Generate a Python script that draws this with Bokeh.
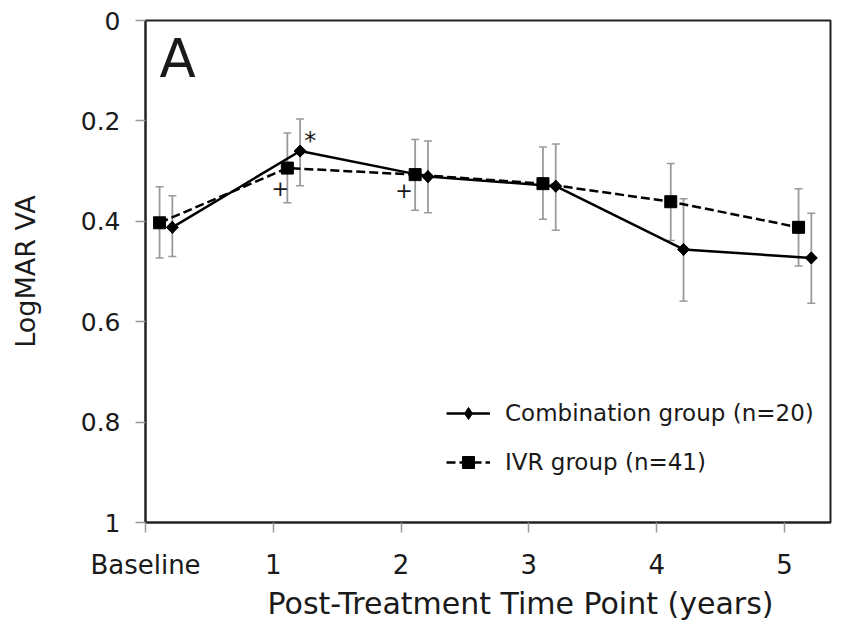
from bokeh.plotting import figure
from bokeh.models import (Range1d, FixedTicker, Whisker, TeeHead, ColumnDataSource,
                          Legend, LegendItem, Label, Title)
from bokeh.core.properties import value
from bokeh.embed import file_html
from bokeh.resources import INLINE
import math

# ---------------- data ----------------
time_points = [0, 1, 2, 3, 4, 5]
time_labels = ["Baseline", "1", "2", "3", "4", "5"]

comb_mean = [0.412, 0.260, 0.311, 0.330, 0.456, 0.473]
comb_upper = [0.349, 0.196, 0.240, 0.246, 0.355, 0.384]
comb_lower = [0.470, 0.329, 0.383, 0.418, 0.559, 0.563]

ivr_mean = [0.403, 0.294, 0.307, 0.325, 0.361, 0.412]
ivr_upper = [0.331, 0.224, 0.237, 0.252, 0.285, 0.335]
ivr_lower = [0.473, 0.363, 0.378, 0.396, 0.438, 0.489]

y_ticks = [0, 0.2, 0.4, 0.6, 0.8, 1]
y_tick_labels = ["0", "0.2", "0.4", "0.6", "0.8", "1"]

comb_label = "Combination group (n=20)"
ivr_label = "IVR group (n=41)"
x_title = "Post-Treatment Time Point (years)"
y_title = "LogMAR VA"

star_index = 1          # "*" on the combination group
plus_indices = [1, 2]   # "+" on the IVR group

# ---------------- layout constants ----------------
ivr_shift = 0.11
comb_shift = 0.21
FONT = "DejaVu Sans"
TXT = "#1a1a1a"
BAR = "#9a9a9a"

ivr_x = [t + ivr_shift for t in time_points]
comb_x = [t + comb_shift for t in time_points]

src_c = ColumnDataSource(dict(x=comb_x, y=comb_mean, up=comb_upper, lo=comb_lower))
src_i = ColumnDataSource(dict(x=ivr_x, y=ivr_mean, up=ivr_upper, lo=ivr_lower))

p = figure(frame_width=685, frame_height=502,
           min_border_left=145, min_border_right=8, min_border_top=20, min_border_bottom=100,
           x_range=Range1d(0, 5.36), y_range=Range1d(1, 0),
           output_backend="svg", toolbar_location=None,
           background_fill_color="white", border_fill_color="white")

p.xgrid.visible = False
p.ygrid.visible = False
p.outline_line_color = "#222222"
p.outline_line_width = 2

# error bars
for src in (src_i, src_c):
    w = Whisker(base="x", upper="up", lower="lo", source=src, dimension="height",
                line_color=BAR, line_width=1.8, level="underlay",
                upper_head=TeeHead(size=8, line_color=BAR, line_width=1.5),
                lower_head=TeeHead(size=8, line_color=BAR, line_width=1.5))
    p.add_layout(w)

# lines and markers
ivr_line = p.line("x", "y", source=src_i, line_color="black", line_width=2.5, line_dash="9 4")
ivr_mark = p.scatter("x", "y", source=src_i, marker="square", size=12,
                     fill_color="black", line_color="black")
comb_line = p.line("x", "y", source=src_c, line_color="black", line_width=2.5)
# diamond key (used for the legend); hidden under the wider rotated square in the plot
comb_key = p.scatter("x", "y", source=src_c, marker="diamond", size=12,
                     fill_color="black", line_color="black")
comb_mark = p.scatter("x", "y", source=src_c, marker="square", angle=math.pi / 4, size=8.5,
                      fill_color="black", line_color="black")

# significance annotations
p.text(x=[comb_x[star_index]], y=[comb_mean[star_index]], text=["*"],
       x_offset=10, y_offset=-10, text_font=value(FONT), text_font_size="24px",
       text_align="center", text_baseline="middle", text_color=TXT)
p.text(x=[ivr_x[i] for i in plus_indices], y=[ivr_mean[i] for i in plus_indices],
       text=["+"] * len(plus_indices),
       x_offset=[-7, -11], y_offset=[20, 15], text_font=value(FONT), text_font_size="21px",
       text_align="center", text_baseline="middle", text_color=TXT)

# panel letter
p.add_layout(Label(x=0.11, y=0.076, text="A", text_font=FONT, text_font_size="53px",
                   text_baseline="alphabetic", text_align="left", text_color=TXT))

# axes
xa = p.xaxis[0]
xa.ticker = FixedTicker(ticks=time_points)
xa.major_label_overrides = {t: l for t, l in zip(time_points, time_labels)}
ya = p.yaxis[0]
ya.ticker = FixedTicker(ticks=y_ticks)
ya.major_label_overrides = {t: l for t, l in zip(y_ticks, y_tick_labels)}
ya.axis_label = y_title

for ax in (xa, ya):
    ax.axis_line_color = "#222222"
    ax.axis_line_width = 2
    ax.major_tick_line_color = "#999999"
    ax.major_tick_line_width = 1.5
    ax.major_tick_out = 10
    ax.major_tick_in = 0
    ax.minor_tick_line_color = None
    ax.major_label_text_font = FONT
    ax.major_label_text_color = TXT
    ax.axis_label_text_font = FONT
    ax.axis_label_text_font_style = "normal"
    ax.axis_label_text_color = TXT

xa.major_label_text_font_size = "26px"
ya.major_label_text_font_size = "25px"
ya.axis_label_text_font_size = "27px"
xa.major_label_standoff = 17
ya.major_label_standoff = 15
ya.axis_label_standoff = 37

# x-axis title (placed as a below-title so it can sit right of centre, as in the source)
p.add_layout(Title(text=x_title, align="left", offset=122, standoff=2,
                   text_font=FONT, text_font_size="30px", text_font_style="normal",
                   text_color=TXT), "below")

legend = Legend(items=[LegendItem(label=comb_label, renderers=[comb_line, comb_key]),
                       LegendItem(label=ivr_label, renderers=[ivr_line, ivr_mark])],
                location=(301, 45), orientation="vertical",
                border_line_color=None, background_fill_alpha=0,
                padding=0, margin=0, spacing=19,
                glyph_width=44, glyph_height=30, label_height=30, label_standoff=15,
                label_text_font=FONT, label_text_font_size="23px", label_text_color=TXT)
p.add_layout(legend)

open("out.html", "w").write(file_html(p, INLINE))
